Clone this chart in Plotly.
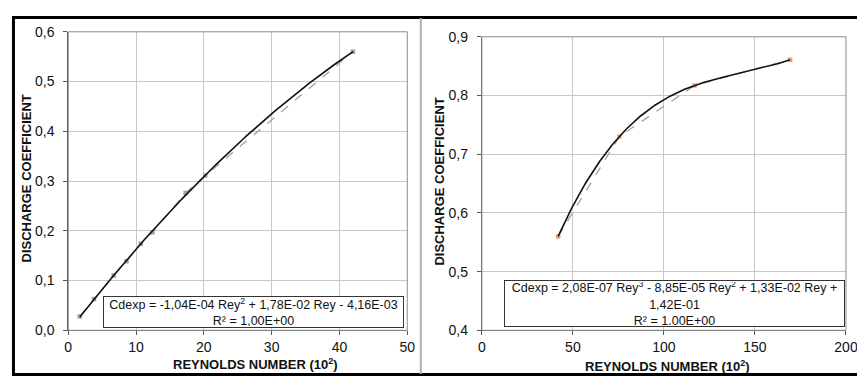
import numpy as np
import plotly.graph_objects as go
from plotly.subplots import make_subplots

# ---- data ----
rey_left = [1.7, 3.8, 6.7, 8.6, 10.7, 12.4, 17.3, 20.2, 42.0]
cd_left = [0.028, 0.063, 0.110, 0.139, 0.174, 0.197, 0.276, 0.311, 0.560]

rey_right = [41.9, 75.5, 116.8, 169.3]
cd_right = [0.560, 0.730, 0.817, 0.861]

eq_left = "Cdexp = -1,04E-04 Rey<sup>2</sup> + 1,78E-02 Rey - 4,16E-03<br>R² = 1,00E+00"
eq_right = ("Cdexp = 2,08E-07 Rey<sup>3</sup> - 8,85E-05 Rey<sup>2</sup> + 1,33E-02 Rey +"
            "<br>1,42E-01<br>R² = 1,00E+00")

W, H = 865, 376
FONT = "Liberation Sans, Arial, sans-serif"

fig = make_subplots(rows=1, cols=2)

def px_x(p):
    return p / W

def px_y(p):
    return 1 - p / H

# trend lines via least-squares fit of the data (Excel polynomial trendline)
for col, (xs, ys, deg, mcol) in enumerate([
        (rey_left, cd_left, 2, "#a0a0a0"),
        (rey_right, cd_right, 3, "#e6a57e")], start=1):
    fig.add_trace(go.Scatter(x=xs, y=ys, mode="lines+markers",
                             line=dict(color="#a0a0a0", width=1.3, dash="dash"),
                             marker=dict(symbol="square", size=4.5, color=mcol),
                             showlegend=False), row=1, col=col)
    c = np.polyfit(xs, ys, deg)
    xt = np.linspace(min(xs), max(xs), 200)
    fig.add_trace(go.Scatter(x=xt, y=np.polyval(c, xt), mode="lines",
                             line=dict(color="#111111", width=1.6),
                             showlegend=False), row=1, col=col)

axis_common = dict(showgrid=True, gridcolor="#c8c8c8", gridwidth=1,
                   showline=True, linecolor="#555555", linewidth=1, mirror=False,
                   ticks="outside", ticklen=4, tickcolor="#555555",
                   tickfont=dict(family=FONT, size=14, color="#111"),
                   zeroline=False)

fig.update_xaxes(**axis_common, ticklabelstandoff=0)
fig.update_yaxes(**axis_common, ticklabelstandoff=6)

fig.update_xaxes(range=[0, 50], dtick=10, domain=[px_x(57.3), px_x(402.7)], row=1, col=1)
fig.update_yaxes(range=[0, 0.6], dtick=0.1, tickformat=".1f",
                 domain=[px_y(328.3), px_y(16.5)], row=1, col=1)
fig.update_xaxes(range=[0, 200], dtick=50, domain=[px_x(478.7), px_x(849.7)], row=1, col=2)
fig.update_yaxes(range=[0.4, 0.9], dtick=0.1, tickformat=".1f",
                 domain=[px_y(328.3), px_y(21.7)], row=1, col=2)

shapes = []
# plot-area frames
for xr, yr in [("x domain", "y domain"), ("x2 domain", "y2 domain")]:
    shapes.append(dict(type="rect", xref=xr, yref=yr, x0=0, x1=1, y0=0, y1=1,
                       line=dict(color="#8a8a8a", width=1), layer="above"))
# outer border and separator
shapes.append(dict(type="rect", xref="paper", yref="paper",
                   x0=px_x(1.5), x1=px_x(863.5), y0=px_y(374.5), y1=px_y(1.5),
                   line=dict(color="#000", width=3)))
shapes.append(dict(type="line", xref="paper", yref="paper",
                   x0=px_x(416.5), x1=px_x(416.5), y0=px_y(374), y1=px_y(2),
                   line=dict(color="#b0b0b0", width=2)))

annotations = [
    dict(text=eq_left, xref="paper", yref="paper", x=px_x(246), y=px_y(309),
         xanchor="center", yanchor="middle", showarrow=False, align="center",
         font=dict(family=FONT, size=12.5, color="#111"),
         bordercolor="#333", borderwidth=1, bgcolor="white",
         width=297, height=28, borderpad=1),
    dict(text=eq_right, xref="paper", yref="paper", x=px_x(674.5), y=px_y(300.5),
         xanchor="center", yanchor="middle", showarrow=False, align="center",
         font=dict(family=FONT, size=12.5, color="#111"),
         bordercolor="#333", borderwidth=1, bgcolor="white",
         width=337, height=43, borderpad=1),
    dict(text="<b>REYNOLDS NUMBER (10<sup>2</sup>)</b>", xref="paper", yref="paper",
         x=px_x(248), y=px_y(363.5), xanchor="center", yanchor="middle", showarrow=False,
         font=dict(family=FONT, size=13, color="#111")),
    dict(text="<b>REYNOLDS NUMBER (10<sup>2</sup>)</b>", xref="paper", yref="paper",
         x=px_x(668), y=px_y(366), xanchor="center", yanchor="middle", showarrow=False,
         font=dict(family=FONT, size=13, color="#111")),
    dict(text="<b>DISCHARGE COEFFICIENT</b>", xref="paper", yref="paper",
         x=px_x(15), y=px_y(170), xanchor="center", yanchor="middle", showarrow=False,
         textangle=-90, font=dict(family=FONT, size=13, color="#111")),
    dict(text="<b>DISCHARGE COEFFICIENT</b>", xref="paper", yref="paper",
         x=px_x(436), y=px_y(173), xanchor="center", yanchor="middle", showarrow=False,
         textangle=-90, font=dict(family=FONT, size=13, color="#111")),
]

fig.update_layout(width=W, height=H, margin=dict(l=0, r=0, t=0, b=0),
                  paper_bgcolor="white", plot_bgcolor="white",
                  separators=",.", shapes=shapes, annotations=annotations,
                  font=dict(family=FONT))

fig.write_html("out.html")
